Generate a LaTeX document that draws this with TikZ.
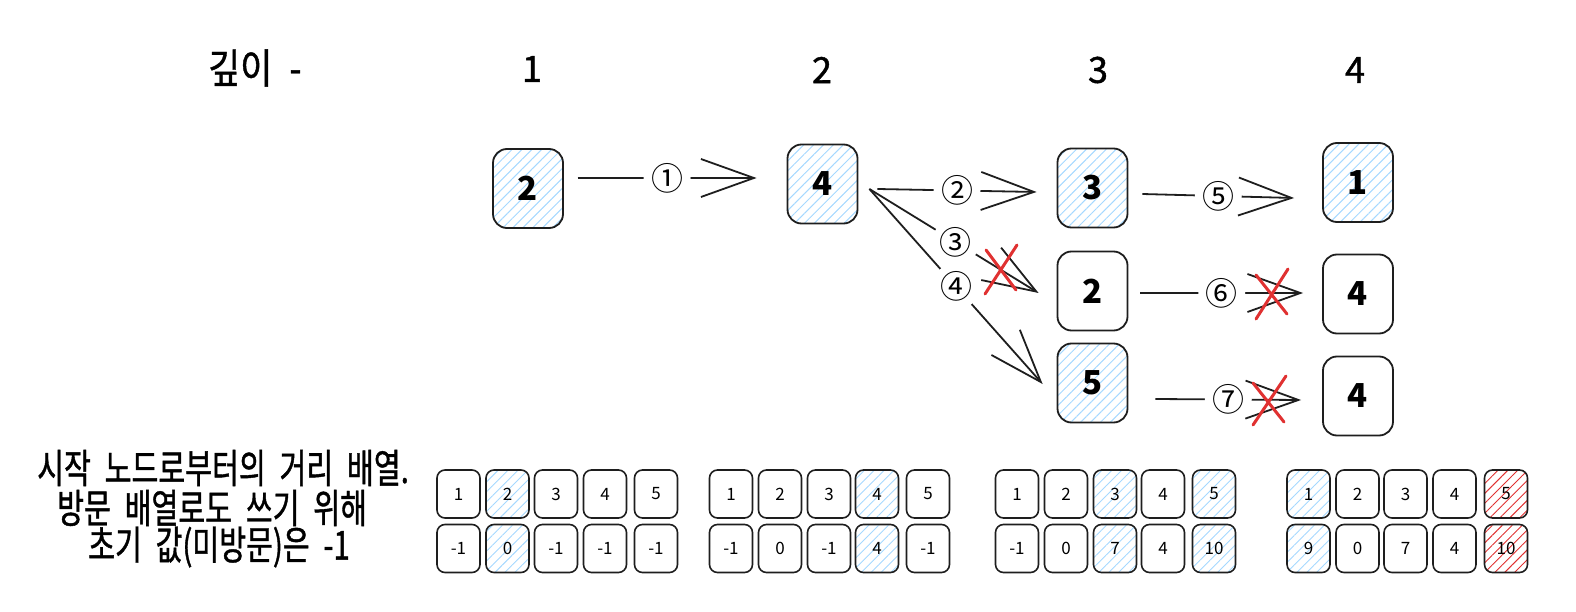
\documentclass[tikz,border=0pt]{standalone}
\usepackage{fontspec}
\setmainfont{Noto Sans CJK KR}
\newfontfamily\krbody[FakeStretch=0.73,WordSpace=2.1,FakeBold=1]{Noto Sans CJK KR}
\newfontfamily\krhead[FakeStretch=0.85,WordSpace=2.2,FakeBold=1]{Noto Sans CJK KR}
\newfontfamily\digits[FakeBold=1.2]{Noto Sans CJK KR}
\usetikzlibrary{arrows.meta,patterns.meta,calc}
\definecolor{ink}{HTML}{1E1E1E}
\definecolor{hblue}{HTML}{A5D8FF}
\definecolor{hred}{HTML}{E03131}
\definecolor{xred}{HTML}{E03131}
\tikzset{
  gnode/.style={draw=ink, line width=1.8pt, rounded corners=14pt, minimum width=70pt, minimum height=79pt, inner sep=0pt, font=\fontsize{33}{33}\selectfont\bfseries, pattern={Lines[angle=45,distance=7pt,line width=1pt]}},
  cell/.style={draw=ink, line width=1.6pt, rounded corners=8pt, minimum width=43pt, minimum height=48pt, inner sep=0pt, font=\fontsize{17}{17}\selectfont, pattern={Lines[angle=45,distance=7pt,line width=0.9pt]}},
  edge/.style={draw=ink, line width=1.8pt, -{Straight Barb[length=53pt,width=38pt]}},
  lbl/.style={circle, fill=white, minimum size=47pt, inner sep=0pt, font=\fontsize{32}{32}\selectfont},
  redx/.style={draw=xred, line width=3pt, line cap=round},
  head/.style={font=\digits\fontsize{36}{36}\selectfont, inner sep=0pt},
  note/.style={font=\krbody\fontsize{40}{40}\selectfont, anchor=west, inner sep=0pt},
}
\begin{document}
\begin{tikzpicture}[x=1pt,y=-1pt]
\useasboundingbox (0,0) rectangle (1576,612);
% header
\node[font=\krhead\fontsize{41}{41}\selectfont, inner sep=0pt, anchor=west] (hd) at (208,68) {깊이 -};
\node[head] (d1) at (532,69) {1};
\node[head] (d2) at (822,70) {2};
\node[head] (d3) at (1098,70) {3};
\node[head] (d4) at (1355,70) {4};
% graph nodes
\node[gnode, pattern color=hblue] (g1) at (528,188.5) {2};
\node[gnode, pattern color=hblue] (g2) at (822.5,184) {4};
\node[gnode, pattern color=hblue] (g3) at (1092.5,188) {3};
\node[gnode, pattern color=hblue] (g4) at (1358,182.5) {1};
\node[gnode, pattern color=white] (g5) at (1092.5,291) {2};
\node[gnode, pattern color=white] (g6) at (1358,294) {4};
\node[gnode, pattern color=hblue] (g7) at (1092.5,383) {5};
\node[gnode, pattern color=white] (g8) at (1358,396) {4};
% edges
\draw[edge] ($(g1.east)+(14,-10.5)$) -- ($(g2.west)+(-30,-6)$) node[lbl,pos=0.5] (l1) {①};
\draw[edge] ($(g2.east)+(19,5)$) -- ($(g3.west)+(-20,4)$) node[lbl,pos=0.5] (l2) {②};
\draw[edge] ($(g2.east)+(11,5)$) -- ($(g5.west)+(-18,2)$) node[lbl,pos=0.51] (l3) {③};
\draw[edge] ($(g2.east)+(11,5)$) -- ($(g7.west)+(-14,1)$) node[lbl,pos=0.5] (l4) {④};
\draw[edge] ($(g3.east)+(14,6)$) -- ($(g4.west)+(-28,15.5)$) node[lbl,pos=0.5] (l5) {⑤};
\draw[edge] ($(g5.east)+(12,2)$) -- ($(g6.west)+(-19,-1)$) node[lbl,pos=0.5] (l6) {⑥};
\draw[edge] ($(g7.east)+(27,16)$) -- ($(g8.west)+(-21,4)$) node[lbl,pos=0.5] (l7) {⑦};
% red crosses
\draw[redx] (986,250) -- (1016,290) (1017,245) -- (985,294);
\draw[redx] (1256,275) -- (1287,314) (1288,269) -- (1256,319);
\draw[redx] (1253,383) -- (1284,422) (1286,376) -- (1253,425);
% note text
\node[note] (t1) at (37,468) {시작 노드로부터의 거리 배열.};
\node[note] (t2) at (57,508) {방문 배열로도 쓰기 위해};
\node[note] (t3) at (88,547) {초기 값(미방문)은 -1};
% arrays
\foreach \i/\x/\t/\b/\c in {1/458.5/1/-1/white, 2/507.5/2/0/hblue, 3/556/3/-1/white, 4/605/4/-1/white, 5/656/5/-1/white} {
  \node[cell, pattern color=\c] (a1t\i) at (\x,494) {\t};
  \node[cell, pattern color=\c] (a1b\i) at (\x,548.5) {\b};
}
\foreach \i/\x/\t/\b/\c in {1/731/1/-1/white, 2/780/2/0/white, 3/829/3/-1/white, 4/877/4/4/hblue, 5/928/5/-1/white} {
  \node[cell, pattern color=\c] (a2t\i) at (\x,494) {\t};
  \node[cell, pattern color=\c] (a2b\i) at (\x,548.5) {\b};
}
\foreach \i/\x/\t/\b/\c in {1/1017/1/-1/white, 2/1066/2/0/white, 3/1115/3/7/hblue, 4/1163/4/4/white, 5/1214/5/10/hblue} {
  \node[cell, pattern color=\c] (a3t\i) at (\x,494) {\t};
  \node[cell, pattern color=\c] (a3b\i) at (\x,548.5) {\b};
}
\foreach \i/\x/\t/\b/\c in {1/1308.5/1/9/hblue, 2/1357.5/2/0/white, 3/1405.5/3/7/white, 4/1454.5/4/4/white, 5/1506/5/10/hred} {
  \node[cell, pattern color=\c] (a4t\i) at (\x,494) {\t};
  \node[cell, pattern color=\c] (a4b\i) at (\x,548.5) {\b};
}
\end{tikzpicture}
\end{document}
